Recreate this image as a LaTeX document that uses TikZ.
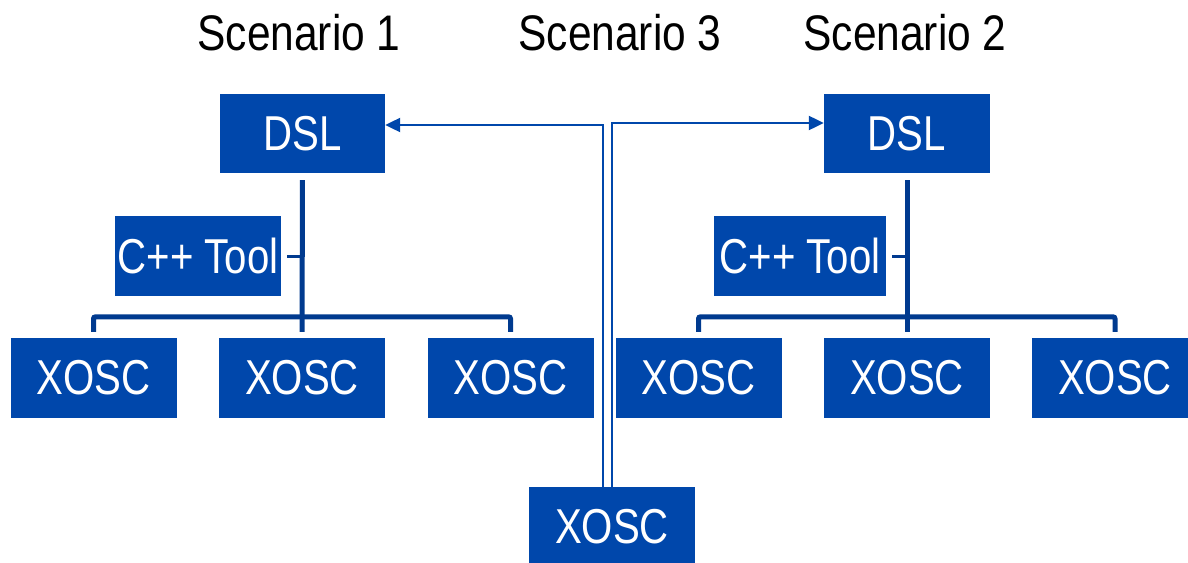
\documentclass[tikz,border=0pt]{standalone}
\usepackage{fontspec}
\setmainfont{Liberation Sans}
\newfontfamily\boxfont[FakeStretch=0.82]{Liberation Sans}
\newfontfamily\headfont[FakeStretch=0.85]{Liberation Sans}
\usetikzlibrary{arrows.meta}
\definecolor{boxblue}{HTML}{0047AB}
\definecolor{lineblue}{HTML}{003A8F}
\tikzset{
  block/.style={fill=boxblue, text=white, inner sep=0pt,
    minimum width=166pt, minimum height=80pt,
    font=\boxfont\fontsize{49}{49}\selectfont},
  head/.style={anchor=base, inner sep=0pt, font=\headfont\fontsize{50}{50}\selectfont},
  trunk/.style={draw=lineblue, line width=5pt},
  bus/.style={draw=lineblue, line width=5pt, rounded corners=2pt},
  tick/.style={draw=lineblue, line width=3pt},
  feed/.style={draw=boxblue, line width=2.2pt, -{Triangle[length=15pt,width=14pt]}}
}
\begin{document}
\begin{tikzpicture}[x=1pt, y=-1pt]
  \useasboundingbox (0,0) rectangle (1188,562);
  \clip (0,0) rectangle (1188,562);

  % headings
  \node[head] (h1) at (299,50) {Scenario 1};
  \node[head] (h3) at (620,50) {Scenario 3};
  \node[head] (h2) at (905,50) {Scenario 2};

  % scenario 1
  \node[block, minimum width=165pt, minimum height=79pt] (dslA) at (302.5,133.5) {DSL};
  \node[block] (cppA) at (198,256) {C++ Tool};
  \node[block] (xA1) at (93.5,378) {XOSC};
  \node[block] (xA2) at (302,378) {XOSC};
  \node[block] (xA3) at (510.5,378) {XOSC};

  % scenario 2
  \node[block, minimum width=166pt, minimum height=79pt] (dslB) at (907,133.5) {DSL};
  \node[block, minimum width=172pt] (cppB) at (800,256) {C++ Tool};
  \node[block] (xB1) at (698.5,378) {XOSC};
  \node[block] (xB2) at (907,378) {XOSC};
  \node[block] (xB3) at (1115,378) {XOSC};

  % scenario 3
  \node[block] (xC) at (612,527) {XOSC};

  % tool chains of scenarios 1 and 2
  \draw[trunk, shorten <=7pt, shorten >=6pt] (dslA.south) -- (xA2.north);
  \draw[bus] ([yshift=6pt]xA1.north) -- ++(0,-15) -| ([yshift=6pt]xA3.north);
  \draw[tick] ([xshift=6pt]cppA.east) -- (cppA.east -| dslA.south);

  \draw[trunk, shorten <=7pt, shorten >=6pt] (dslB.south) -- (xB2.north);
  \draw[bus] ([yshift=6pt]xB1.north) -- ++(0,-15) -| ([yshift=6pt]xB3.north);
  \draw[tick] ([xshift=6pt]cppB.east) -- (cppB.east -| dslB.south);

  % scenario 3 feeds both DSLs
  \draw[feed] ([xshift=-9pt]xC.north) |- ([yshift=8.5pt]dslA.east);
  \draw[feed] (xC.north) |- ([yshift=10.5pt]dslB.west);
\end{tikzpicture}
\end{document}
